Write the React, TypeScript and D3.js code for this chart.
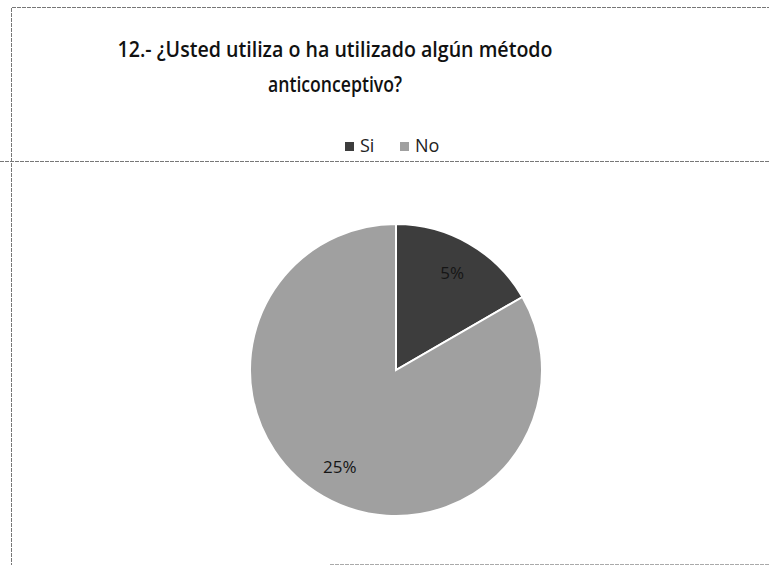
import * as d3 from 'd3';
import React, { useEffect, useRef } from 'react';

const categories = ['Si', 'No'];
const values = [5, 25];
const labels = ['5%', '25%'];
const titleLines = ['12.- ¿Usted utiliza o ha utilizado algún método', 'anticonceptivo?'];
const titleWidths = [435, 134];

interface Slice {
  name: string;
  value: number;
  label: string;
}

const App: React.FC = () => {
  const ref = useRef<SVGSVGElement>(null);

  useEffect(() => {
    if (!ref.current) return;
    const width = 769;
    const height = 565;
    const cx = 396;
    const cy = 370;
    const radius = 146;

    const svg = d3.select(ref.current);
    svg.selectAll('*').remove();
    svg.attr('width', width).attr('height', height);

    svg.append('rect').attr('width', width).attr('height', height).attr('fill', '#fff');

    // scanned page frame lines
    const frame = svg.append('g').attr('stroke', '#777').attr('stroke-width', 1).attr('stroke-dasharray', '4,1');
    frame.append('line').attr('x1', 12).attr('x2', width).attr('y1', 7.5).attr('y2', 7.5);
    frame.append('line').attr('x1', 11.5).attr('x2', 11.5).attr('y1', 8).attr('y2', height);
    frame.append('line').attr('x1', 0).attr('x2', width).attr('y1', 161.5).attr('y2', 161.5);
    frame.append('line').attr('x1', 330).attr('x2', width).attr('y1', 564.5).attr('y2', 564.5).attr('stroke', '#aaa');

    const color = d3.scaleOrdinal<string, string>().domain(categories).range(['#3d3d3d', '#a0a0a0']);

    titleLines.forEach((t, i) => {
      svg.append('text')
        .attr('x', 335)
        .attr('y', 57 + i * 35)
        .attr('text-anchor', 'middle')
        .attr('textLength', titleWidths[i])
        .attr('lengthAdjust', 'spacingAndGlyphs')
        .style('font-family', '"Open Sans", sans-serif')
        .style('font-weight', 600)
        .style('font-size', '22px')
        .attr('fill', '#111')
        .text(t);
    });

    // legend
    const legend = svg.append('g').attr('transform', 'translate(345,152)');
    const items = legend.selectAll('g').data(categories).enter().append('g')
      .attr('transform', (d, i) => `translate(${i * 55},0)`);
    items.append('rect').attr('x', 0).attr('y', -10).attr('width', 9).attr('height', 9)
      .attr('fill', d => color(d));
    items.append('text').attr('x', 15).attr('y', 0)
      .style('font-family', '"Open Sans", sans-serif')
      .style('font-size', '18px')
      .attr('fill', '#222')
      .text(d => d);

    const data: Slice[] = categories.map((c, i) => ({ name: c, value: values[i], label: labels[i] }));
    const pie = d3.pie<Slice>().sort(null).value(d => d.value)(data);
    const arc = d3.arc<d3.PieArcDatum<Slice>>().innerRadius(0).outerRadius(radius);
    const labelArc = d3.arc<d3.PieArcDatum<Slice>>().innerRadius(radius * 0.77).outerRadius(radius * 0.77);

    const g = svg.append('g').attr('transform', `translate(${cx},${cy})`);
    g.selectAll('path').data(pie).enter().append('path')
      .attr('d', arc)
      .attr('fill', d => color(d.data.name))
      .attr('stroke', '#fff')
      .attr('stroke-width', 2);

    g.selectAll('text.lbl').data(pie).enter().append('text')
      .attr('class', 'lbl')
      .attr('transform', d => `translate(${labelArc.centroid(d)})`)
      .attr('text-anchor', 'middle')
      .attr('dy', '0.35em')
      .style('font-family', '"Open Sans", sans-serif')
      .style('font-size', '17px')
      .attr('fill', '#151515')
      .text(d => d.data.label);
  }, []);

  return <svg ref={ref} style={{ display: 'block', position: 'absolute', left: 0, top: 0 }} />;
};

export default App;
